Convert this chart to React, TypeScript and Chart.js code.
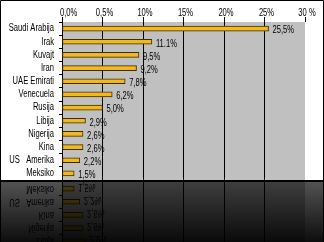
import React, { useEffect, useRef } from "react";
import { Chart, registerables } from "chart.js";
Chart.register(...registerables);

const categories = [
  "Saudi Arabija",
  "Irak",
  "Kuvajt",
  "Iran",
  "UAE Emirati",
  "Venecuela",
  "Rusija",
  "Libija",
  "Nigerija",
  "Kina",
  "US   Amerika",
  "Meksiko",
];
const shares = [25.5, 11.1, 9.5, 9.2, 7.8, 6.2, 5.0, 2.9, 2.6, 2.6, 2.2, 1.5];
const valueLabels = ["25,5%", "11.1%", "9,5%", "9,2%", "7,8%", "6,2%", "5,0%", "2,9%", "2,6%", "2,6%", "2,2%", "1,5%"];
const tickValues = [0, 5, 10, 15, 20, 25, 30];
const tickLabels = ["0,0%", "0,5%", "10%", "15%", "20%", "25%", "30 %"];

const FONT = '"Liberation Sans", Arial, sans-serif';
const SX = 0.76;
const W = 324;
const H = 242;
const SPLIT = 182;

function narrowText(ctx: CanvasRenderingContext2D, text: string, x: number, y: number, align: CanvasTextAlign) {
  ctx.save();
  ctx.translate(x, y);
  ctx.scale(SX, 1);
  ctx.textAlign = align;
  ctx.fillText(text, 0, 0);
  ctx.restore();
}

const decorPlugin = {
  id: "decor",
  beforeDraw(chart: any) {
    const { ctx, chartArea } = chart;
    ctx.save();
    ctx.fillStyle = "#ffffff";
    ctx.fillRect(0, 0, W, H);
    ctx.fillStyle = "#c0c0c0";
    ctx.fillRect(chartArea.left, chartArea.top, chartArea.right - chartArea.left, chartArea.bottom - chartArea.top);
    ctx.restore();
  },
  afterDatasetsDraw(chart: any) {
    const { ctx } = chart;
    const meta = chart.getDatasetMeta(0);
    ctx.save();
    ctx.font = `10px ${FONT}`;
    ctx.fillStyle = "#000000";
    ctx.textBaseline = "middle";
    meta.data.forEach((bar: any, i: number) => {
      narrowText(ctx, valueLabels[i], bar.x + 4, bar.y + 2, "left");
    });
    ctx.restore();
  },
  afterDraw(chart: any) {
    const { ctx, canvas } = chart;
    const xs = chart.scales.x;
    const ys = chart.scales.y;
    ctx.save();
    // axis labels
    ctx.font = `10px ${FONT}`;
    ctx.fillStyle = "#000000";
    ctx.textBaseline = "middle";
    categories.forEach((c, i) => {
      narrowText(ctx, c, ys.right - 8, ys.getPixelForValue(i), "right");
    });
    tickValues.forEach((v, i) => {
      const px = xs.getPixelForValue(v);
      if (i === 0) narrowText(ctx, tickLabels[i], px - 2, 13, "left");
      else narrowText(ctx, tickLabels[i], px + 2, 13, "center");
    });
    // outer border of the upper part
    ctx.strokeStyle = "#000000";
    ctx.lineWidth = 1;
    ctx.beginPath();
    ctx.moveTo(0.5, SPLIT);
    ctx.lineTo(0.5, 0.5);
    ctx.lineTo(W - 0.5, 0.5);
    ctx.lineTo(W - 0.5, SPLIT);
    ctx.stroke();
    // separator line
    ctx.fillStyle = "#000000";
    ctx.fillRect(0, SPLIT - 2, W, 2);
    // reflection
    const off = document.createElement("canvas");
    const rh = H - SPLIT;
    off.width = W;
    off.height = rh;
    const octx = off.getContext("2d")!;
    octx.drawImage(canvas, 0, SPLIT - rh - 2, W, rh, 0, 0, W, rh);
    ctx.translate(0, SPLIT + rh);
    ctx.scale(1, -1);
    ctx.drawImage(off, 0, 0, W, rh, 0, 0, W, rh);
    ctx.setTransform(1, 0, 0, 1, 0, 0);
    const g = ctx.createLinearGradient(0, SPLIT, 0, H);
    g.addColorStop(0, "rgba(0,0,0,0.68)");
    g.addColorStop(1, "rgba(0,0,0,0.95)");
    ctx.fillStyle = g;
    ctx.fillRect(0, SPLIT, W, rh);
    ctx.restore();
  },
};

export default function App() {
  const ref = useRef<HTMLCanvasElement>(null);
  useEffect(() => {
    if (!ref.current) return;
    const chart = new Chart(ref.current, {
      type: "bar",
      data: {
        labels: categories,
        datasets: [
          {
            data: shares,
            backgroundColor: "#f2b81e",
            borderColor: "#3c2e00",
            borderWidth: 1,
            borderSkipped: false,
            barThickness: 5,
          },
        ],
      },
      options: {
        indexAxis: "y",
        animation: false,
        responsive: false,
        devicePixelRatio: 1,
        layout: { padding: { left: 0, right: 19, top: 0, bottom: 62 } },
        plugins: { legend: { display: false }, tooltip: { enabled: false } },
        scales: {
          x: {
            position: "top",
            min: 0,
            max: 30,
            afterFit(scale: any) {
              scale.height = 22;
            },
            ticks: {
              stepSize: 5,
              display: false,
            },
            grid: {
              color: (c: any) => (c.tick && c.tick.value === 30 ? "rgba(0,0,0,0)" : "#000000"),
              tickColor: "#000000",
              tickLength: 5,
              lineWidth: 1,
            },
            border: { display: false },
          },
          y: {
            afterFit(scale: any) {
              scale.width = 62;
            },
            ticks: { display: false, autoSkip: false },
            grid: {
              drawOnChartArea: false,
              tickColor: "#000000",
              tickLength: 3,
              offset: true,
            },
            border: { display: true, color: "#000000", width: 1 },
          },
        },
      },
      plugins: [decorPlugin],
    });
    return () => chart.destroy();
  }, []);
  return (
    <div style={{ position: "fixed", left: 0, top: 0, width: W, height: H }}>
      <canvas ref={ref} width={W} height={H} />
    </div>
  );
}
